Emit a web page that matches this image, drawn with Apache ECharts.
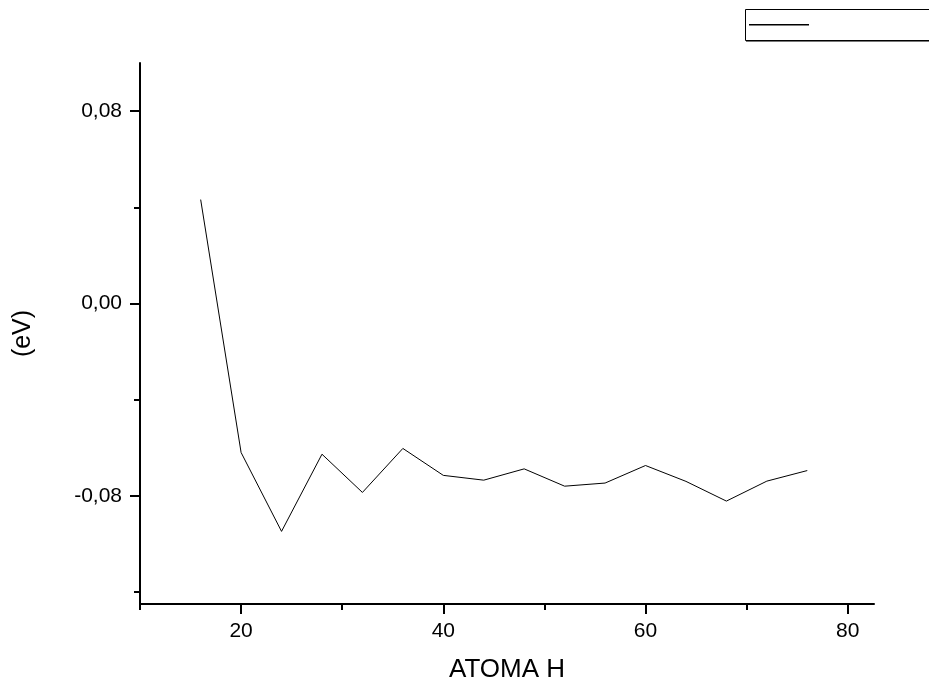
<!DOCTYPE html>
<html>
<head>
<meta charset="utf-8">
<script src="https://cdn.jsdelivr.net/npm/echarts@6/dist/echarts.min.js"></script>
<style>
html,body{margin:0;padding:0;background:#fff;}
#chart{width:929px;height:688px;}
</style>
</head>
<body>
<div id="chart"></div>
<script>
// Data
const atoms = [16, 20, 24, 28, 32, 36, 40, 44, 48, 52, 56, 60, 64, 68, 72, 76];
const energy = [0.0432, -0.0620, -0.0948, -0.0627, -0.0786, -0.0603, -0.0715, -0.0735,
                -0.0688, -0.0760, -0.0747, -0.0674, -0.0740, -0.0822, -0.0739, -0.0695];
const xMajorTicks = [20, 40, 60, 80];
const xMinorTicks = [10, 30, 50, 70];
const yMajorTicks = [-0.08, 0, 0.08];
const yMinorTicks = [-0.12, -0.04, 0.04];
const xTitle = 'ATOMA H';
const yTitle = '(eV)';

const FONT = '"Liberation Sans", Arial, sans-serif';
const chart = echarts.init(document.getElementById('chart'), null, {renderer: 'canvas'});
const fmtY = v => v.toFixed(2).replace('.', ',');

const points = atoms.map((a, i) => [a, energy[i]]);

chart.setOption({
  animation: false,
  backgroundColor: '#ffffff',
  grid: {left: 140, right: 55, top: 63, bottom: 82, containLabel: false},
  legend: {
    show: true,
    left: 749, top: 24,
    padding: 0,
    icon: 'rect',
    itemWidth: 60, itemHeight: 1.5,
    itemGap: 0,
    formatter: () => '',
    textStyle: {fontSize: 1},
    data: ['ΔE']
  },
  graphic: [{
    type: 'rect',
    shape: {x: 745.5, y: 9.5, width: 300, height: 31},
    style: {fill: 'none', stroke: '#000', lineWidth: 1},
    silent: true
  }, {
    type: 'line',
    shape: {x1: 746, y1: 41.5, x2: 929, y2: 41.5},
    style: {stroke: '#777', lineWidth: 1},
    silent: true
  }],
  xAxis: [{
    type: 'value', min: 10, max: 82.6,
    position: 'bottom',
    name: xTitle, nameLocation: 'middle', nameGap: 53,
    nameTextStyle: {fontFamily: FONT, fontSize: 26, color: '#000'},
    axisLine: {show: true, onZero: false, lineStyle: {color: '#000', width: 2}},
    axisTick: {show: true, customValues: xMajorTicks, length: 10, inside: false, lineStyle: {color: '#000', width: 2}},
    axisLabel: {show: true, customValues: xMajorTicks, margin: 17, fontFamily: FONT, fontSize: 21, color: '#000'},
    splitLine: {show: false}
  }, {
    type: 'value', min: 10, max: 82.6,
    position: 'bottom',
    axisLine: {show: false, onZero: false},
    axisTick: {show: true, customValues: xMinorTicks, length: 6, lineStyle: {color: '#000', width: 2}},
    axisLabel: {show: false},
    splitLine: {show: false}
  }],
  yAxis: [{
    type: 'value', min: -0.125, max: 0.1,
    position: 'left',
    name: yTitle, nameLocation: 'middle', nameGap: 104, nameRotate: 90,
    nameTextStyle: {fontFamily: FONT, fontSize: 25, color: '#000'},
    axisLine: {show: true, onZero: false, lineStyle: {color: '#000', width: 2}},
    axisTick: {show: true, customValues: yMajorTicks, length: 10, lineStyle: {color: '#000', width: 2}},
    axisLabel: {show: true, customValues: yMajorTicks, margin: 18, formatter: fmtY, fontFamily: FONT, fontSize: 21, color: '#000'},
    splitLine: {show: false}
  }, {
    type: 'value', min: -0.125, max: 0.1,
    position: 'left',
    axisLine: {show: false, onZero: false},
    axisTick: {show: true, customValues: yMinorTicks, length: 6, lineStyle: {color: '#000', width: 2}},
    axisLabel: {show: false},
    splitLine: {show: false}
  }],
  series: [{
    name: 'ΔE',
    type: 'line',
    xAxisIndex: 0, yAxisIndex: 0,
    data: points,
    symbol: 'none',
    lineStyle: {color: '#000', width: 1},
    itemStyle: {color: '#000'},
    clip: false
  }]
});
</script>
</body>
</html>
